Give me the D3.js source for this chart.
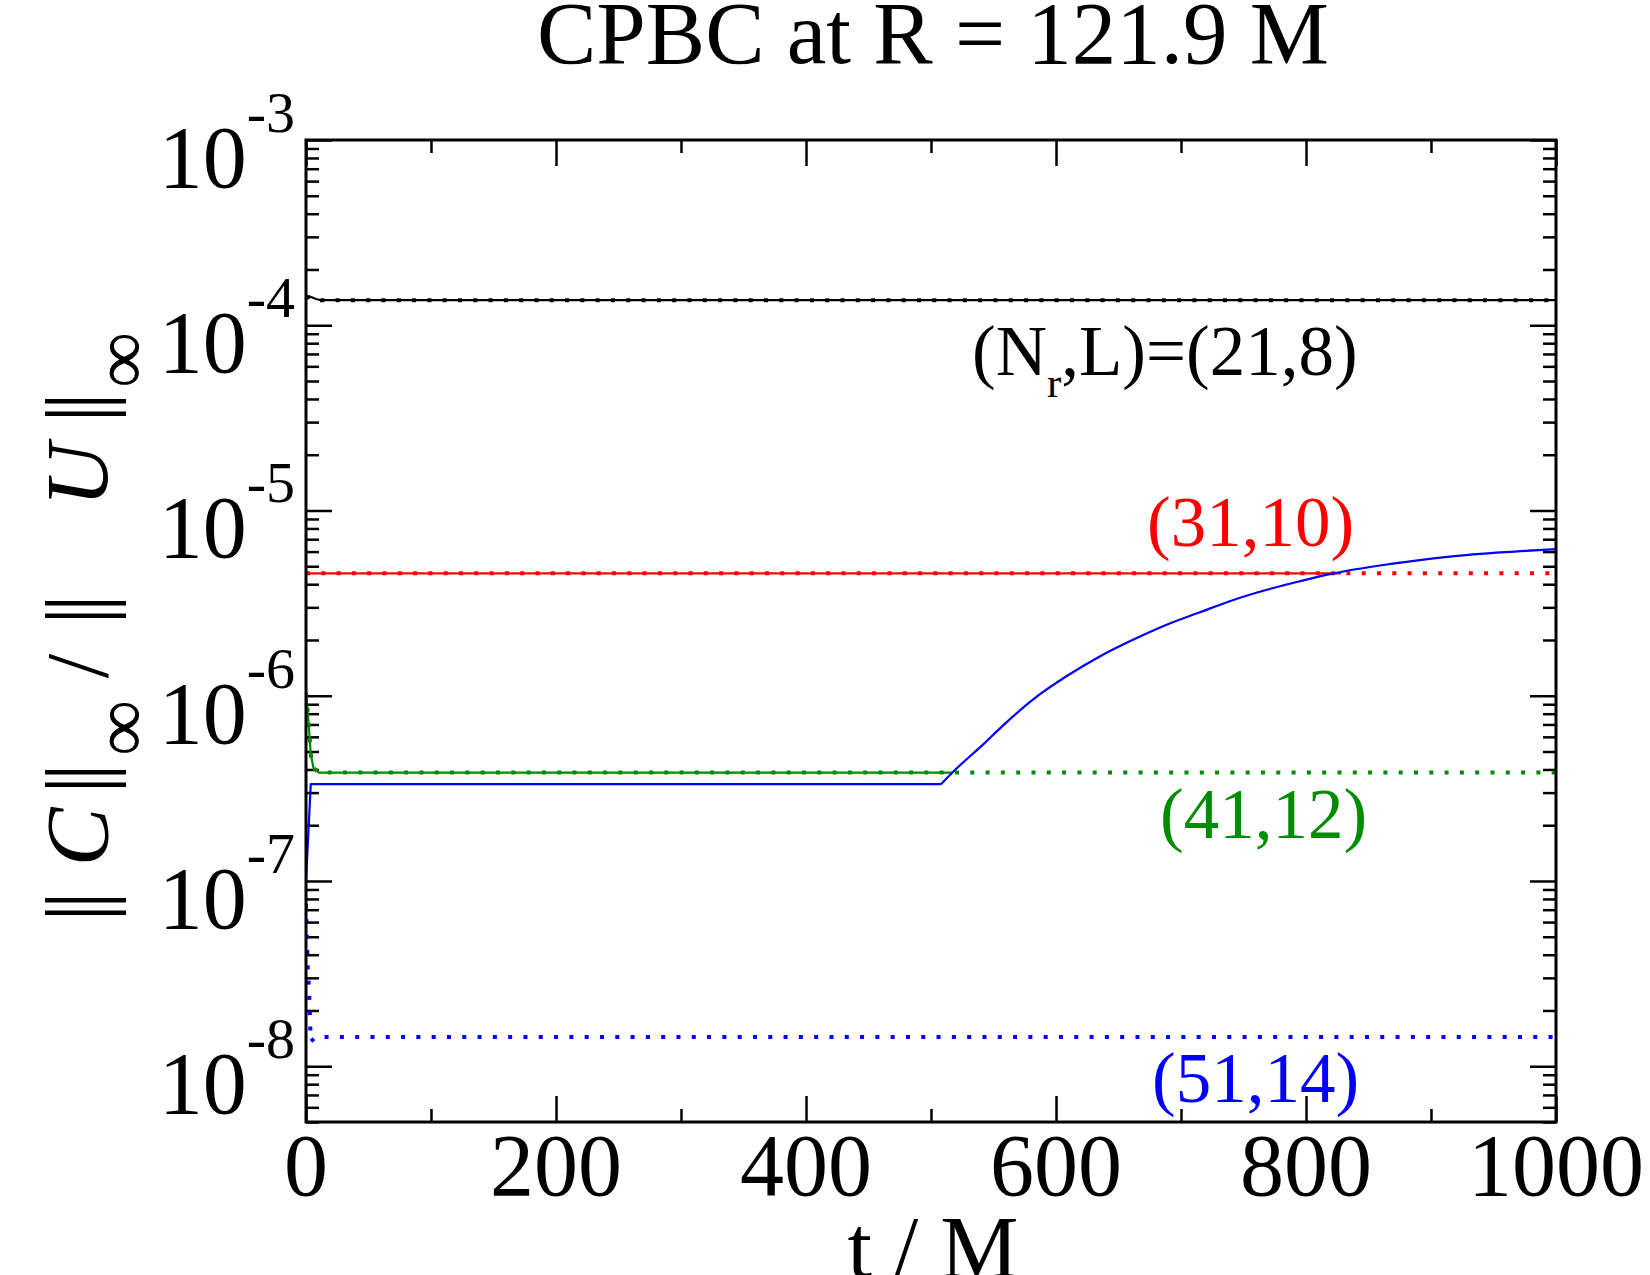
<!DOCTYPE html>
<html>
<head>
<meta charset="utf-8">
<script src="https://cdnjs.cloudflare.com/ajax/libs/d3/7.8.5/d3.min.js"></script>
<style>
	body { margin: 0; background: #fff; }
	text { font-family: "Liberation Serif", "Times New Roman", serif; }
</style>
</head>
<body>
<div id="chart"></div>
<script>
	// series (t in M, constraint norm)
	var blackT = [0, 3, 8, 12, 1000];
	var blackV = [1.40e-4, 1.43e-4, 1.385e-4, 1.365e-4, 1.365e-4];

	var redT = [0, 1000];
	var redV = [4.58e-6, 4.58e-6];
	var redSolidT = [0, 828];
	var redSolidV = [4.58e-6, 4.58e-6];

	var greenT = [0, 1.1, 2.7, 3.8, 5.9, 9.9, 1000];
	var greenV = [1.04e-6, 8.65e-7, 6.22e-7, 4.85e-7, 4.09e-7, 3.85e-7, 3.85e-7];
	var greenSolidT = [0, 1.1, 2.7, 3.8, 5.9, 9.9, 517];
	var greenSolidV = [1.04e-6, 8.65e-7, 6.22e-7, 4.85e-7, 4.09e-7, 3.85e-7, 3.85e-7];

	var blueT = [0, 1.3, 2.6, 3.8, 8, 1000];
	var blueV = [7.5e-8, 3.55e-8, 2.4e-8, 1.36e-8, 1.44e-8, 1.44e-8];
	// solid blue: start-up and plateau, then the growth after t ~ 508
	var blueFlatT = [0, 3.8, 508];
	var blueFlatV = [1.0e-7, 3.33e-7, 3.33e-7];
	var blueRiseT = [508, 520, 542, 556, 582, 608, 635, 662, 688, 715, 742, 768, 795, 822, 868, 915, 960, 1000];
	var blueRiseV = [3.33e-7, 4.02e-7, 5.48e-7, 6.75e-7, 9.60e-7, 1.27e-6, 1.63e-6, 2.01e-6,
		2.41e-6, 2.82e-6, 3.29e-6, 3.72e-6, 4.15e-6, 4.58e-6, 5.15e-6, 5.64e-6, 5.96e-6, 6.18e-6];

	var xTicks = [0, 200, 400, 600, 800, 1000];
	var xMinorTicks = [100, 300, 500, 700, 900];
	var yTickExps = [-3, -4, -5, -6, -7, -8];

	var width = 1650;
	var height = 1275;
	var pLeft = 306, pRight = 1556, pTop = 140, pBottom = 1122;

	var svg = d3.select('#chart')
		.append('svg')
		.attr('width', width)
		.attr('height', height);

	var x = d3.scaleLinear().domain([0, 1000]).range([pLeft, pRight]);
	var y = d3.scaleLog().domain([5e-9, 1e-3]).range([pBottom, pTop]);

	var yMinor = [];
	for (var e = -9; e < -3; e ++) {
		for (var m = 2; m < 10; m ++) {
			var v = m * Math.pow(10, e);
			if (v >= 5e-9 && v <= 1e-3) yMinor.push(v);
		}
	}
	var yMajor = yTickExps.map(function (p) { return Math.pow(10, p); });

	svg.append('defs').append('clipPath')
		.attr('id', 'plotclip')
		.append('rect')
		.attr('x', pLeft).attr('y', pTop)
		.attr('width', pRight - pLeft).attr('height', pBottom - pTop);

	//ticks, all pointing inward
	function ticks(axis, vals, size, tx, ty) {
		svg.append('g')
			.attr('transform', 'translate(' + tx + ',' + ty + ')')
			.call(axis.tickValues(vals).tickSize(size).tickFormat(''))
			.call(function (g) {
				g.select('.domain').remove();
				g.selectAll('line').attr('stroke', '#000').attr('stroke-width', 2.5);
			});
	}
	ticks(d3.axisBottom(x), xTicks, -26, 0, pBottom);
	ticks(d3.axisBottom(x), xMinorTicks, -13, 0, pBottom);
	ticks(d3.axisTop(x), xTicks, -26, 0, pTop);
	ticks(d3.axisTop(x), xMinorTicks, -13, 0, pTop);
	ticks(d3.axisLeft(y), yMajor, -26, pLeft, 0);
	ticks(d3.axisLeft(y), yMinor, -13, pLeft, 0);
	ticks(d3.axisRight(y), yMajor, -26, pRight, 0);
	ticks(d3.axisRight(y), yMinor, -13, pRight, 0);

	//curves
	var plot = svg.append('g').attr('clip-path', 'url(#plotclip)');

	function curve(ts, vs, color, dotted, smooth) {
		var pts = ts.map(function (t, i) { return [t, vs[i]]; });
		var line = d3.line()
			.curve(smooth ? d3.curveMonotoneX : d3.curveLinear)
			.x(function (d) { return x(d[0]); })
			.y(function (d) { return y(d[1]); });
		var p = plot.append('path')
			.datum(pts)
			.attr('d', line)
			.attr('fill', 'none')
			.attr('stroke', color);
		if (dotted) {
			p.attr('stroke-width', 4).attr('stroke-dasharray', '4,11.3');
		} else {
			p.attr('stroke-width', 2.2).attr('stroke-linejoin', 'round');
		}
	}

	curve(blackT, blackV, '#000', false);
	curve(redSolidT, redSolidV, '#ff0000', false);
	curve(greenSolidT, greenSolidV, '#008c00', false);
	curve(blackT, blackV, '#000', true);
	curve(redT, redV, '#ff0000', true);
	curve(greenT, greenV, '#008c00', true);
	curve(blueT, blueV, '#0000ff', true);
	curve(blueFlatT, blueFlatV, '#0000ff', false);
	curve(blueRiseT, blueRiseV, '#0000ff', false, true);

	//frame
	svg.append('rect')
		.attr('x', pLeft).attr('y', pTop)
		.attr('width', pRight - pLeft).attr('height', pBottom - pTop)
		.attr('fill', 'none')
		.attr('stroke', '#000')
		.attr('stroke-width', 3);

	//tick labels
	svg.append('g').selectAll('text')
		.data(xTicks)
		.enter()
		.append('text')
		.attr('x', function (d) { return x(d); })
		.attr('y', 1195)
		.attr('text-anchor', 'middle')
		.attr('font-size', 88)
		.text(function (d) { return d; });

	var yl = svg.append('g').selectAll('text')
		.data(yTickExps)
		.enter()
		.append('text')
		.attr('x', 295)
		.attr('y', function (d) { return y(Math.pow(10, d)) + 47; })
		.attr('text-anchor', 'end')
		.attr('font-size', 88);
	yl.append('tspan').text('10');
	yl.append('tspan')
		.attr('dy', -55)
		.attr('font-size', 58)
		.text(function (d) { return '-' + Math.abs(d); });

	//titles
	svg.append('text')
		.attr('x', 933).attr('y', 63)
		.attr('text-anchor', 'middle')
		.attr('font-size', 89)
		.text('CPBC at R = 121.9 M');

	svg.append('text')
		.attr('x', 933).attr('y', 1277)
		.attr('text-anchor', 'middle')
		.attr('font-size', 88)
		.text('t / M');

	// rotated y title, pieces placed along the axis
	var ytitle = svg.append('g')
		.attr('transform', 'translate(107,0) rotate(-90)');
	var pieces = [
		{s: '||', c: 909, italic: false, sub: false},
		{s: 'C', c: 837, italic: true, sub: false},
		{s: '||', c: 781, italic: false, sub: false},
		{s: '\u221e', c: 728, italic: false, sub: true},
		{s: '/', c: 666, italic: false, sub: false},
		{s: '||', c: 612, italic: false, sub: false},
		{s: 'U', c: 475, italic: true, sub: false},
		{s: '||', c: 410, italic: false, sub: false},
		{s: '\u221e', c: 360, italic: false, sub: true}
	];
	pieces.forEach(function (p) {
		ytitle.append('text')
			.attr('x', -p.c)
			.attr('y', p.sub ? 40 : 0)
			.attr('text-anchor', 'middle')
			.attr('font-size', p.sub ? 78 : 88)
			.attr('font-style', p.italic ? 'italic' : 'normal')
			.attr('letter-spacing', p.s == '||' ? -5 : 0)
			.text(p.s);
	});

	//run labels
	var lab = svg.append('text')
		.attr('x', 972).attr('y', 375)
		.attr('font-size', 71)
		.attr('fill', '#000');
	lab.append('tspan').text('(N');
	lab.append('tspan').attr('dy', 22).attr('font-size', 43).text('r');
	lab.append('tspan').attr('dy', -22).text(',L)=(21,8)');

	svg.append('text').attr('x', 1147).attr('y', 546)
		.attr('font-size', 71).attr('fill', '#ff0000').text('(31,10)');
	svg.append('text').attr('x', 1160).attr('y', 838)
		.attr('font-size', 71).attr('fill', '#008c00').text('(41,12)');
	svg.append('text').attr('x', 1152).attr('y', 1102)
		.attr('font-size', 71).attr('fill', '#0000ff').text('(51,14)');
</script>
</body>
</html>
